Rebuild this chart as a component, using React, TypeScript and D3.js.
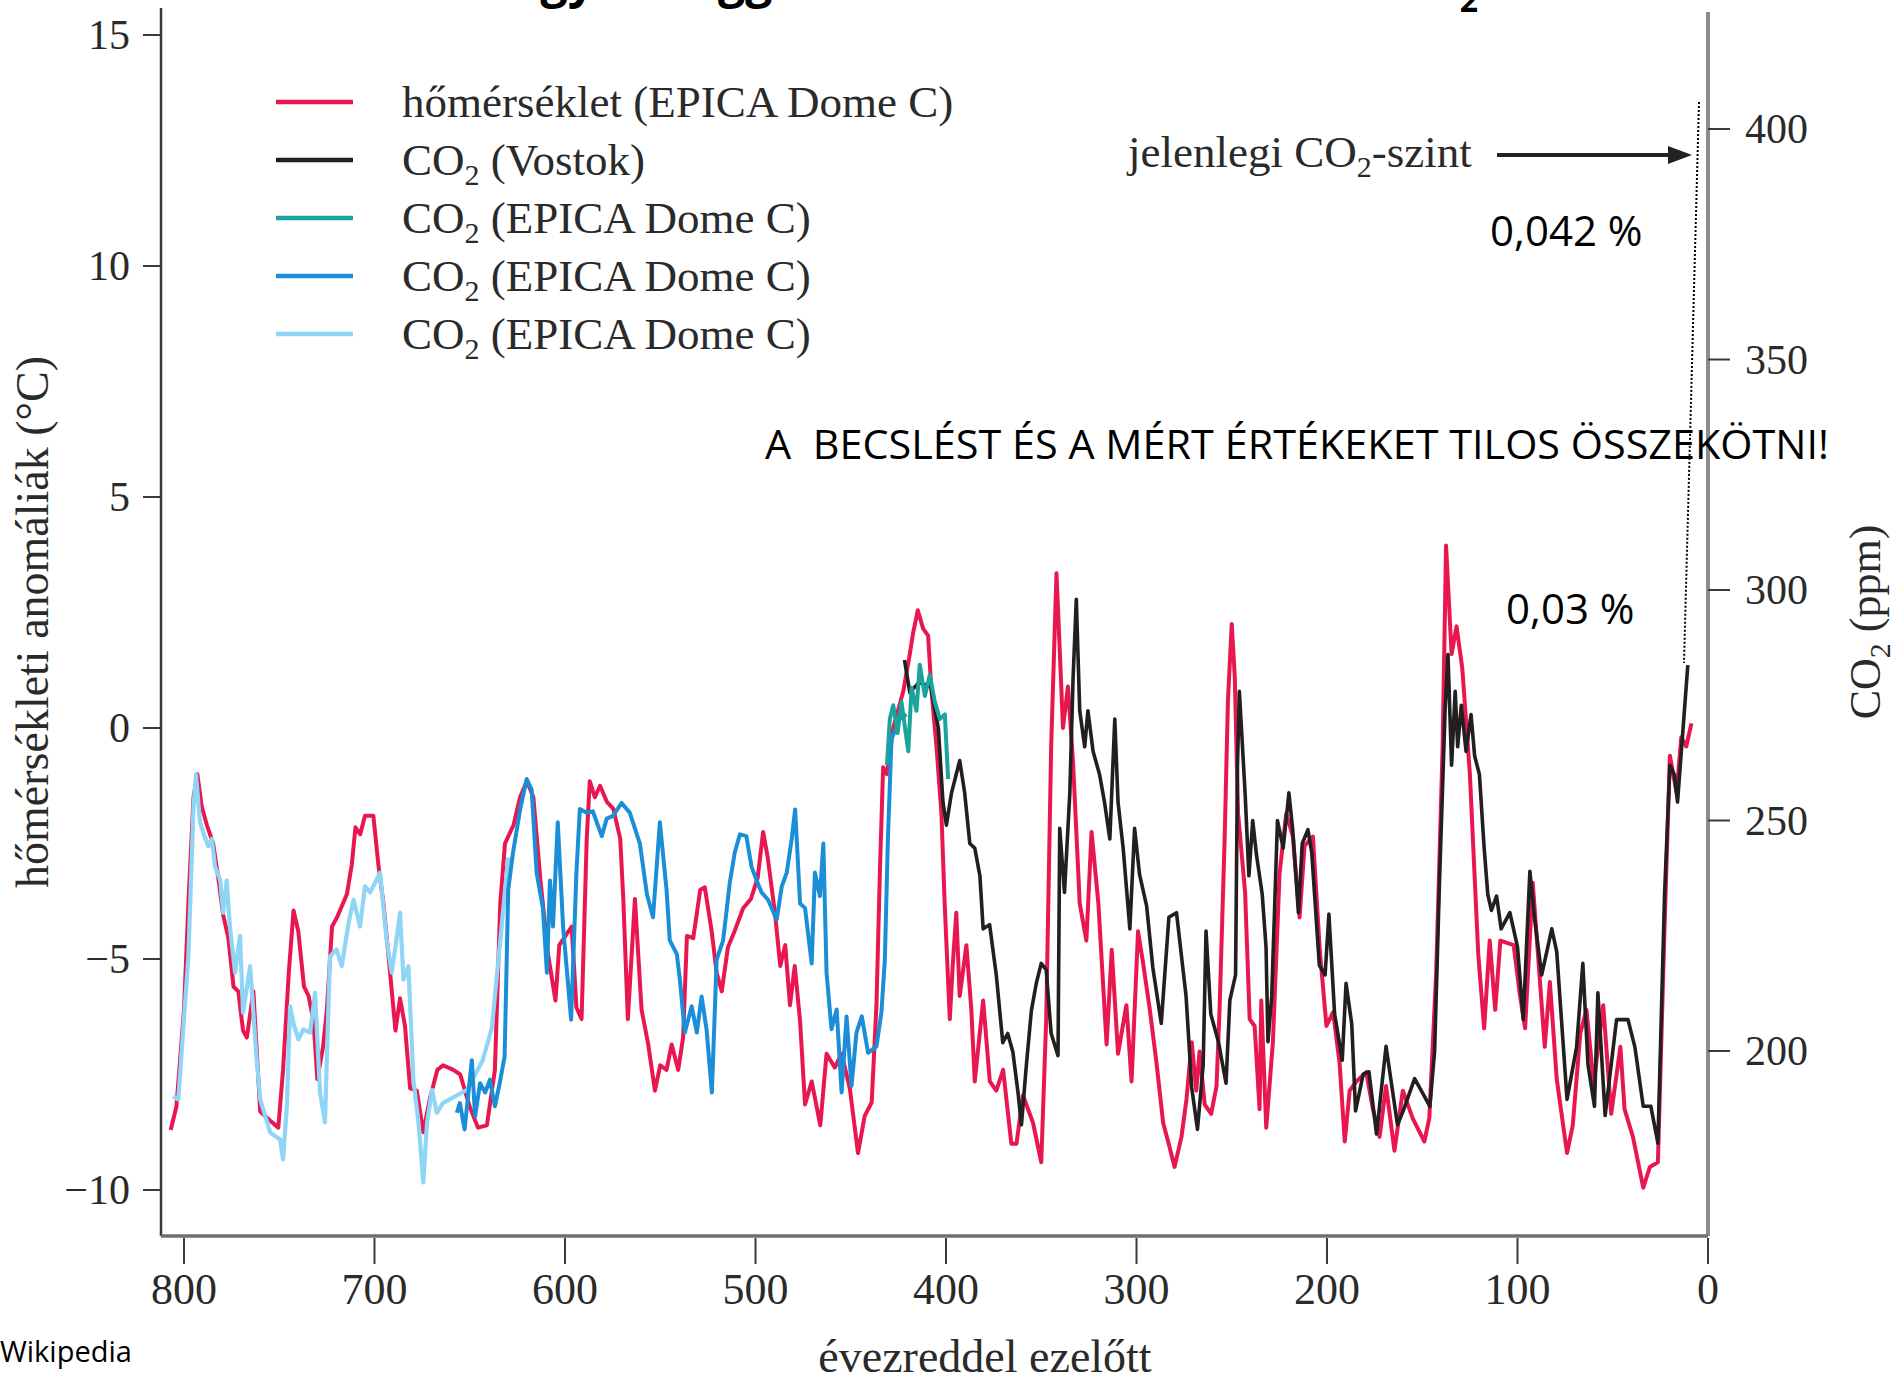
import React from 'react';
import * as d3 from 'd3';

// ---- data ----
// age in thousand years before present, value in °C / ppm
const tempEpica: [number, number][] = [
  [807, -8.7], [804, -8.2], [800, -6.1], [797.7, -3.8], [795, -1.5], [793, -1.0], [790.7, -1.7], [788, -2.1],
  [784.7, -2.5], [782, -3.25], [779.4, -4.05], [776.7, -4.55], [774, -5.6], [771.5, -5.7], [769, -6.55], [767, -6.7],
  [763.6, -5.7], [760, -8.3], [754.7, -8.5], [750.5, -8.65], [748, -7.4], [745, -5.3], [742.5, -3.95], [740, -4.4],
  [737, -5.6], [734.6, -5.8], [732, -6.35], [730, -7.6], [727, -6.9], [725, -6.1], [722.3, -4.3], [719.7, -4.1],
  [714.5, -3.6], [711.9, -2.95], [710, -2.15], [707.5, -2.3], [705, -1.9], [700.6, -1.9], [698, -2.95], [695.3, -3.8],
  [691.8, -5.3], [689, -6.55], [686.6, -5.85], [684, -6.45], [681.3, -7.8], [677.8, -7.85], [674.4, -8.75], [670.8, -8.0],
  [667, -7.4], [664, -7.3], [658.6, -7.4], [655, -7.5], [650, -8.2], [645.7, -8.65], [641, -8.6], [636.8, -7.4],
  [634, -3.8], [631.5, -2.5], [627, -2.1], [623.6, -1.5], [620, -1.15], [616.6, -1.5], [613, -3.25], [608.9, -4.9],
  [605, -5.9], [603, -4.7], [596.5, -4.3], [594, -6.05], [591.3, -6.3], [588.6, -2.4], [587, -1.15], [584.3, -1.5],
  [581.6, -1.25], [578, -1.6], [574.6, -1.75], [571, -2.4], [569.4, -3.7], [567, -6.3], [563.3, -3.7], [559.8, -6.1],
  [556.3, -6.85], [552.8, -7.85], [550, -7.3], [546.7, -7.4], [544, -6.85], [540.6, -7.4], [538, -6.7], [536, -4.5],
  [532.7, -4.55], [529, -3.5], [526.6, -3.45], [523, -4.4], [520.4, -5.3], [517.7, -5.7], [514.5, -4.75], [511, -4.4],
  [506.5, -3.9], [502.4, -3.7], [498.9, -3.25], [496, -2.25], [493.6, -2.8], [489.8, -4.0], [487, -5.15], [484.4, -4.7],
  [481.9, -6.0], [479.4, -5.15], [476.6, -6.35], [474, -8.15], [470.5, -7.65], [466, -8.6], [462.7, -7.05], [458.4, -7.35],
  [454.8, -7.05], [450.5, -7.8], [446.2, -9.2], [442.7, -8.4], [439, -8.1], [436.5, -6.0], [434.7, -3.1], [433, -0.85],
  [431, -1.0], [427.7, 0.0], [422.4, 0.8], [419, 1.6], [417.3, 2.05], [414.8, 2.55], [412, 2.15], [409.4, 2.0],
  [407.6, 0.8], [405, -0.4], [402.4, -1.85], [400.7, -3.8], [398, -6.3], [396.4, -5.1], [394.6, -4.0], [392.8, -5.8],
  [389.3, -4.7], [386.7, -6.1], [384.9, -7.65], [380.5, -5.9], [377, -7.65], [373.6, -7.85], [370, -7.4], [365.7, -9.0],
  [363, -9.0], [359.6, -7.95], [354.3, -8.55], [350, -9.4], [347.4, -6.3], [344.8, -0.4], [342, 3.35], [340.3, 1.7],
  [338.6, 0.0], [336, 0.9], [333.3, -0.75], [329.8, -3.8], [326.3, -4.6], [323.6, -2.25], [320, -3.8], [315.7, -6.85],
  [313, -4.8], [309.7, -7.05], [305.3, -6.0], [302.6, -7.65], [299.2, -4.4], [296.5, -5.1], [293, -6.1], [289.5, -7.25],
  [286, -8.55], [283.4, -8.95], [280, -9.5], [276.4, -8.85], [273.8, -8.05], [271, -6.8], [268.6, -7.85], [266.9, -7.0],
  [264.2, -8.15], [260.8, -8.35], [258, -7.75], [256.4, -6.1], [253.7, -2.35], [252, 0.6], [250, 2.25], [248.4, 1.1],
  [246.7, -1.85], [243, -3.55], [240.6, -6.3], [238, -6.45], [235.4, -8.25], [234.5, -5.9], [231.9, -8.65], [228.4, -6.8],
  [224.9, -3.15], [221.4, -1.85], [217.9, -2.35], [214.4, -4.1], [211.8, -2.55], [207.4, -2.35], [203.8, -4.8], [200.3, -6.45],
  [196.8, -6.15], [193.4, -7.25], [190.7, -8.95], [188.1, -7.85], [184.6, -7.65], [179.4, -7.45], [175.9, -8.25], [172.4, -8.85],
  [169, -7.75], [164.6, -9.15], [160.2, -7.85], [155, -8.45], [148.9, -8.95], [146.3, -8.45], [142.7, -5.3], [139.3, -0.4],
  [137.5, 3.95], [134.6, 1.6], [132, 2.2], [129, 1.3], [125, -1.0], [120.6, -4.9], [117.5, -6.5], [114.6, -4.6],
  [111.7, -6.1], [109, -4.6], [102, -4.7], [99, -5.7], [96, -6.5], [92, -3.35], [85.7, -6.9], [83, -5.5],
  [79.4, -7.6], [74, -9.2], [71, -8.6], [67, -6.6], [63.8, -6.1], [60, -7.7], [55, -6.0], [50.8, -8.35],
  [46, -6.9], [43.8, -8.25], [39.4, -8.85], [34, -9.95], [30.5, -9.5], [26.3, -9.4], [22.8, -4.3], [20, -0.6],
  [16.5, -1.4], [14, -0.2], [11.4, -0.4], [8.7, 0.1],
];

const co2Vostok: [number, number][] = [
  [421.8, 284.8], [419, 277.8], [414, 280], [408, 279], [404, 270], [401.6, 254], [399.8, 249], [397.1, 256],
  [392.8, 263], [390.2, 256], [387.5, 245], [384.9, 244], [382.2, 238], [380.5, 226.5], [377.1, 227.4], [373.6, 216.5],
  [370.2, 201.8], [367.6, 203.8], [364.9, 199.8], [362.2, 191], [360.4, 184], [357.8, 197], [355.2, 208.7], [352.6, 214.7],
  [350, 219], [347.4, 217.6], [344.8, 203.8], [341.2, 199], [340.3, 248.3], [337.8, 234.4], [335, 256], [333.3, 280.8],
  [331.6, 298], [329.8, 273.8], [327.2, 266], [325.5, 273.8], [322.8, 265], [319.4, 260], [316.8, 254], [314, 246],
  [311.4, 272], [309.7, 254], [307, 244], [303.5, 226.5], [301, 248.3], [298.4, 238.3], [294.7, 231.5], [291.4, 218],
  [287, 206], [283, 229], [279, 230], [274, 212], [271, 192], [268, 183], [265, 197], [263.5, 226],
  [261, 208], [257, 202], [253, 193], [251, 211], [248, 216.5], [247, 262], [246, 278], [243, 256],
  [241, 238], [239, 250], [237, 242.5], [234, 234], [232, 222.6], [231, 202], [229, 212], [226, 250],
  [223, 244], [220, 256], [218, 248], [215, 230], [213, 245], [210, 248], [208, 243], [204, 218.6],
  [201, 216.5], [199, 229.7], [196, 208], [192, 198], [190, 214.7], [187, 205.8], [185, 187], [181, 195],
  [178, 195.5], [174, 182], [169, 201], [163, 184], [160, 187], [154, 194], [150, 191], [146, 188],
  [143.5, 200], [141, 236], [138, 274], [136.5, 286], [134.6, 262], [132.7, 278], [131.4, 266], [129.5, 275],
  [127, 265], [124.4, 273], [122.5, 264], [120, 260], [117.5, 244], [115.6, 234], [113.7, 230.5], [111, 233.6],
  [108.6, 226.5], [104, 230], [100, 222.6], [97, 206.8], [93.5, 239], [91, 228.6], [87.3, 216.5], [82, 226.5],
  [79.4, 221.5], [74, 189.5], [69, 200.8], [65.7, 219], [63, 197], [59.6, 188], [57.8, 212.6], [54, 186],
  [48, 206.8], [42, 206.8], [38.4, 200.9], [34, 188], [30, 188], [26.3, 180], [22.8, 234], [20, 262],
  [17.7, 260], [16, 254], [13.3, 268.8], [10.6, 283.7],
];

const co2EpicaTeal: [number, number][] = [
  [431, 262], [429.5, 272], [427.7, 275], [425.4, 269], [423.4, 275.8], [419.8, 265], [418.1, 278.8], [415.5, 273.8],
  [413.8, 283.8], [411.1, 277], [408.5, 281.6], [405.9, 275.8], [403.2, 272], [400.6, 273], [398.9, 259],
];

const co2EpicaBlue: [number, number][] = [
  [656.8, 186.6], [655.2, 188.7], [652.7, 183], [648.9, 198], [647.2, 185.8], [644.6, 193], [641.9, 191], [639.4, 193.8],
  [636.8, 188], [634.3, 193], [631.7, 198.8], [629.8, 235], [627.3, 243], [623.5, 252.5], [620.1, 259], [617.5, 256.7],
  [614.9, 238.7], [611.6, 231], [609.5, 217], [607.9, 237], [606.3, 227], [603.8, 249.6], [601, 227], [596.8, 206.8],
  [594, 238.7], [592.2, 252.5], [588.6, 251.7], [585.4, 252], [580.7, 246.6], [578.1, 250.4], [574.8, 251], [570.3, 253.8],
  [566, 251.7], [560.7, 245], [557, 234], [553.8, 229], [550.2, 249.6], [546.7, 235], [545, 224], [541.3, 221],
  [539.7, 215.5], [537.1, 204], [533.5, 209.7], [530.8, 204], [528.3, 211.8], [525.7, 204.7], [522.9, 191], [520.4, 219.8],
  [517, 224], [513.5, 236.5], [510.9, 243], [508.2, 247], [504.8, 246.6], [502.1, 240], [499.4, 237], [496.8, 234.4],
  [493.4, 232.8], [488.9, 228.5], [486.2, 235.7], [483.6, 238.7], [481, 246], [479.2, 252.4], [476.6, 232], [474, 231],
  [470.5, 219], [468.8, 238.7], [466.2, 233.6], [464.4, 245], [462.7, 217], [460.1, 204.7], [457.4, 209], [454.8, 191],
  [452.2, 207.5], [449.6, 192.4], [447, 204], [444.2, 207.5], [440.9, 199.6], [436.5, 201], [433.9, 208.4], [432.1, 219.8],
  [430.5, 246], [428.6, 267.6], [424.3, 272], [420.8, 273],
];

const co2EpicaLight: [number, number][] = [
  [805.7, 190.2], [803, 189.5], [800.3, 205.4], [797.7, 220.5], [795, 253], [793.7, 260], [791.6, 249.6], [789.8, 247.3],
  [787.3, 244.4], [785.4, 246], [783.7, 240], [781, 237], [779.4, 230], [777.6, 237], [775.9, 227], [773.2, 217],
  [770.6, 225], [769, 208.3], [765.3, 218.4], [762, 198.9], [760, 189.5], [754.7, 182.3], [749.6, 180.8], [748, 176.5],
  [746, 188], [744.3, 209.7], [742.5, 206], [740, 202.5], [737.3, 204.7], [733.8, 204], [731.2, 212.6], [728.6, 191],
  [726, 184.5], [723.4, 220.5], [719.9, 222], [717.2, 218.4], [713.6, 227.8], [711, 232.8], [707.6, 227], [705, 235.7],
  [702.3, 234.4], [699.7, 236.5], [697.1, 238.7], [693.6, 224], [691, 217], [689.2, 222], [686.6, 230], [684.8, 215.5],
  [682.2, 218.4], [679.6, 193.8], [676.9, 184.5], [674.4, 171.5], [672.4, 184.5], [669.8, 191.6], [667.3, 186.6], [664.1, 188.7],
  [651.4, 191.6], [643.2, 198], [638.4, 205], [634.3, 222.6], [629.8, 242],
];

const ageTicks = [800, 700, 600, 500, 400, 300, 200, 100, 0];
const tempTicks = [15, 10, 5, 0, -5, -10];
const co2Ticks = [400, 350, 300, 250, 200];

const legendItems = [
  { label: 'hőmérséklet (EPICA Dome C)', sub: false, rest: '', color: '#e8174f' },
  { label: 'CO', sub: true, rest: ' (Vostok)', color: '#231f20' },
  { label: 'CO', sub: true, rest: ' (EPICA Dome C)', color: '#1ba49c' },
  { label: 'CO', sub: true, rest: ' (EPICA Dome C)', color: '#1a8fd8' },
  { label: 'CO', sub: true, rest: ' (EPICA Dome C)', color: '#8fd5f5' },
];

const SERIF = '"Liberation Serif", "Times New Roman", serif';
const SANS = '"Open Sans", "Noto Sans", sans-serif';
const TEXT = '#2a2a2a';

export default function App() {
  const W = 1897;
  const H = 1381;

  const x = d3.scaleLinear().domain([800, 0]).range([184, 1708]);
  const yT = d3.scaleLinear().domain([-10, 15]).range([1190, 35]);
  const yC = d3.scaleLinear().domain([200, 400]).range([1051, 129]);

  const tLine = d3.line<[number, number]>().x(d => x(d[0])).y(d => yT(d[1]));
  const cLine = d3.line<[number, number]>().x(d => x(d[0])).y(d => yC(d[1]));

  const axisLeft = 161;
  const axisRight = 1708;
  const axisBottom = 1236;

  return (
    <svg width={W} height={H} style={{ position: 'absolute', left: 0, top: 0, background: '#fff' }}>
      <rect x={0} y={0} width={W} height={H} fill="#fff" />

      {/* title, cut off at the top edge (only descenders show) */}
      <text x={1478} y={-3} textAnchor="end" fontFamily={SANS} fontWeight={700} fontSize={48} fill="#000">
        Hogyan függ össze a hőmérséklet és a CO<tspan fontSize={32} dy={15}>2</tspan>
      </text>

      {/* series */}
      <path d={tLine(tempEpica) || ''} fill="none" stroke="#e8174f" strokeWidth={4} strokeLinejoin="round" />
      <path d={cLine(co2Vostok) || ''} fill="none" stroke="#231f20" strokeWidth={3.6} strokeLinejoin="round" />
      <path d={cLine(co2EpicaLight) || ''} fill="none" stroke="#8fd5f5" strokeWidth={4.2} strokeLinejoin="round" />
      <path d={cLine(co2EpicaBlue) || ''} fill="none" stroke="#1a8fd8" strokeWidth={4} strokeLinejoin="round" />
      <path d={cLine(co2EpicaTeal) || ''} fill="none" stroke="#1ba49c" strokeWidth={4} strokeLinejoin="round" />

      {/* axes */}
      <line x1={axisLeft} x2={axisLeft} y1={8} y2={axisBottom} stroke="#3a3a3a" strokeWidth={2.5} />
      <line x1={axisRight} x2={axisRight} y1={12} y2={axisBottom} stroke="#8c8c8c" strokeWidth={4} />
      <line x1={axisLeft} x2={axisRight} y1={axisBottom} y2={axisBottom} stroke="#6f6f6f" strokeWidth={3.5} />

      {tempTicks.map(t => (
        <g key={`t${t}`}>
          <line x1={143} x2={axisLeft} y1={yT(t)} y2={yT(t)} stroke="#3a3a3a" strokeWidth={2} />
          <text x={130} y={yT(t) + 14} textAnchor="end" fontFamily={SERIF} fontSize={42} fill={TEXT}>
            {t < 0 ? `\u2212${Math.abs(t)}` : t}
          </text>
        </g>
      ))}

      {co2Ticks.map(c => (
        <g key={`c${c}`}>
          <line x1={axisRight} x2={1730} y1={yC(c)} y2={yC(c)} stroke="#3a3a3a" strokeWidth={2} />
          <text x={1745} y={yC(c) + 14} fontFamily={SERIF} fontSize={42} fill={TEXT}>{c}</text>
        </g>
      ))}

      {ageTicks.map(a => (
        <g key={`a${a}`}>
          <line x1={x(a)} x2={x(a)} y1={axisBottom + 2} y2={1264} stroke="#3a3a3a" strokeWidth={2} />
          <text x={x(a)} y={1304} textAnchor="middle" fontFamily={SERIF} fontSize={44} fill={TEXT}>{a}</text>
        </g>
      ))}

      {/* axis titles */}
      <text transform="translate(48,622) rotate(-90)" textAnchor="middle" fontFamily={SERIF} fontSize={46} fill={TEXT}>
        hőmérsékleti anomáliák (°C)
      </text>
      <text transform="translate(1880,622) rotate(-90)" textAnchor="middle" fontFamily={SERIF} fontSize={44} fill={TEXT}>
        CO<tspan fontSize={30} dy={10}>2</tspan><tspan dy={-10}> (ppm)</tspan>
      </text>
      <text x={985} y={1372} textAnchor="middle" fontFamily={SERIF} fontSize={46} fill={TEXT}>évezreddel ezelőtt</text>
      <text x={0} y={1362} fontFamily={SANS} fontSize={29} fill="#000">Wikipedia</text>

      {/* legend */}
      {legendItems.map((it, i) => {
        const cy = 102 + i * 58;
        return (
          <g key={`l${i}`}>
            <line x1={276} x2={353} y1={cy} y2={cy} stroke={it.color} strokeWidth={4.5} />
            <text x={402} y={cy + 15} fontFamily={SERIF} fontSize={45} fill={TEXT}>
              {it.label}
              {it.sub ? <tspan fontSize={30} dy={10}>2</tspan> : null}
              {it.sub ? <tspan dy={-10}>{it.rest}</tspan> : null}
            </text>
          </g>
        );
      })}

      {/* annotations */}
      <text x={1128} y={167} fontFamily={SERIF} fontSize={45} fill={TEXT}>
        jelenlegi CO<tspan fontSize={30} dy={10}>2</tspan><tspan dy={-10}>-szint</tspan>
      </text>
      <line x1={1497} x2={1672} y1={155} y2={155} stroke="#222" strokeWidth={4} />
      <polygon points="1668,146 1692,155 1668,164" fill="#222" />
      <line x1={1699} y1={102} x2={1684} y2={663} stroke="#000" strokeWidth={2} strokeDasharray="2,2" />

      <text x={1490} y={246} fontFamily={SANS} fontSize={42} fill="#000">0,042 %</text>
      <text x={1506} y={624} fontFamily={SANS} fontSize={42} fill="#000">0,03 %</text>
      <text x={765} y={459} fontFamily={SANS} fontSize={40} fill="#000" textLength={1064} lengthAdjust="spacingAndGlyphs">
        {'A\u00a0\u00a0BECSLÉST ÉS A MÉRT ÉRTÉKEKET TILOS ÖSSZEKÖTNI!'}
      </text>
    </svg>
  );
}
